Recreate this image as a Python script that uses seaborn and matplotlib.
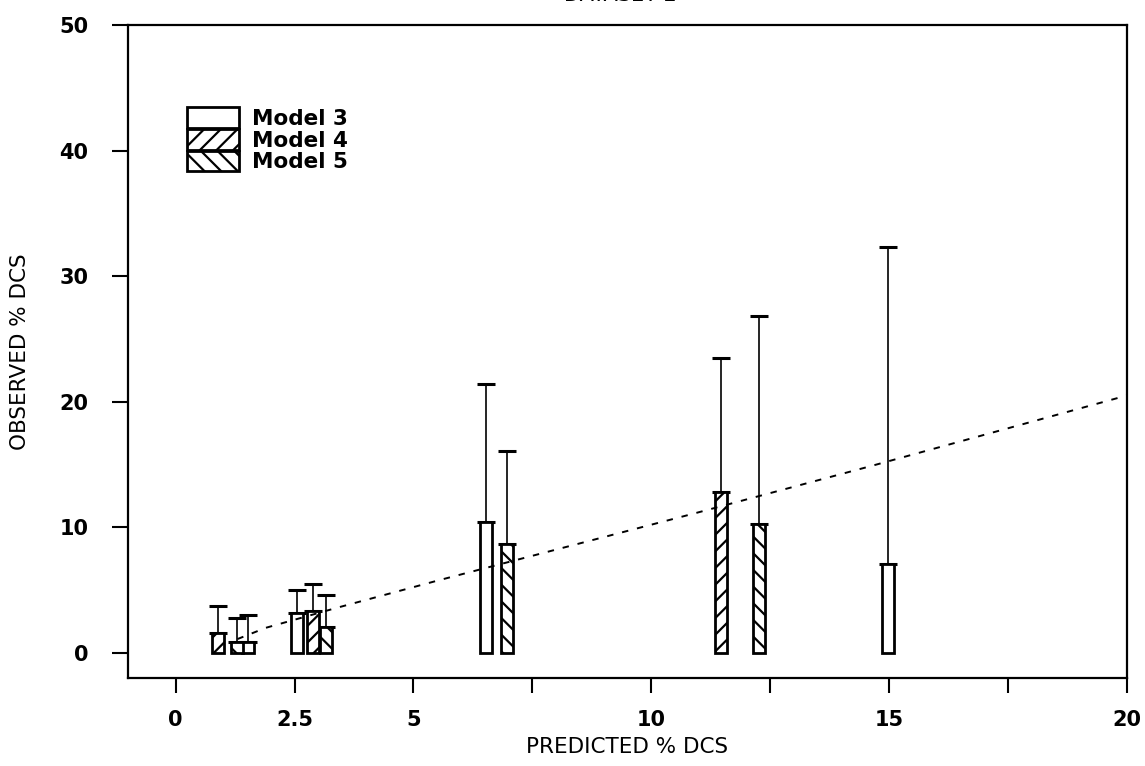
import numpy as np
import pandas as pd
import matplotlib
matplotlib.use("Agg")
import matplotlib.pyplot as plt
import seaborn as sns
from matplotlib.patches import Patch

# ---- data ----
models = ["Model 3", "Model 4", "Model 5"]
model3_x = [1.52, 2.56, 6.53, 14.98]
model3_y = [0.9, 3.2, 10.4, 7.1]
model3_hi = [3.0, 5.0, 21.4, 32.3]
model4_x = [0.90, 2.89, 11.47]
model4_y = [1.6, 3.3, 12.8]
model4_hi = [3.7, 5.5, 23.5]
model5_x = [1.29, 3.17, 6.97, 12.27]
model5_y = [0.9, 2.1, 8.7, 10.3]
model5_hi = [2.8, 4.6, 16.1, 26.8]

line_x = [1.3, 1.9, 3.4, 5.55, 10.9, 14.64, 20.0]
line_y = [1.1, 2.0, 3.6, 5.8, 11.1, 14.9, 20.5]

xticks = [0, 2.5, 5, 7.5, 10, 12.5, 15, 17.5, 20]
xticklabels = ["0", "2.5", "5", "", "10", "", "15", "", "20"]
yticks = [0, 10, 20, 30, 40, 50]
yticklabels = ["0", "10", "20", "30", "40", "50"]

hatches = {"Model 3": "", "Model 4": "//", "Model 5": "\\\\"}

df = pd.concat([
    pd.DataFrame({"x": model3_x, "y": model3_y, "hi": model3_hi, "model": "Model 3"}),
    pd.DataFrame({"x": model4_x, "y": model4_y, "hi": model4_hi, "model": "Model 4"}),
    pd.DataFrame({"x": model5_x, "y": model5_y, "hi": model5_hi, "model": "Model 5"}),
], ignore_index=True)

sns.set_theme(style="ticks")
plt.rcParams["font.family"] = ["DejaVu Sans"]
plt.rcParams["hatch.linewidth"] = 1.6
plt.rcParams["hatch.color"] = "black"
plt.rcParams["text.color"] = "black"

fig = plt.figure(figsize=(11.45, 7.66), dpi=100)
ax = fig.add_axes([128 / 1145, 1 - 678 / 766, 999 / 1145, 653 / 766])

bar_units = 0.25
min_gap = np.min(np.diff(np.unique(df["x"])))
sns.barplot(data=df, x="x", y="y", hue="model", hue_order=models,
            native_scale=True, dodge=False, width=bar_units / min_gap,
            palette={m: "white" for m in models}, edgecolor="black",
            linewidth=2.0, errorbar=None, legend=False, ax=ax, zorder=3)

xs = df["x"].to_numpy()
for p in ax.patches:
    cx = p.get_x() + p.get_width() / 2
    i = int(np.argmin(np.abs(xs - cx)))
    p.set_hatch(hatches[df["model"].iloc[i]])
    p.set_facecolor("white")
    p.set_edgecolor("black")

ax.errorbar(df["x"], df["y"], yerr=[np.zeros(len(df)), df["hi"] - df["y"]],
            fmt="none", ecolor="black", elinewidth=1.2, capsize=6.5,
            capthick=2.2, zorder=2)

sns.lineplot(x=line_x, y=line_y, ax=ax, color="black", lw=1.4,
             linestyle=(0, (3.3, 4.6)), zorder=4)

ax.set_xlim(-1, 20)
ax.set_ylim(-2, 50)
ax.set_xticks(xticks)
ax.set_xticklabels(xticklabels, fontweight="bold")
ax.set_yticks(yticks)
ax.set_yticklabels(yticklabels, fontweight="bold")
ax.tick_params(axis="x", length=11, width=1.5, pad=12, labelsize=15, colors="black")
ax.tick_params(axis="y", length=11.5, width=1.5, pad=17, labelsize=15, colors="black")
for s in ax.spines.values():
    s.set_visible(True)
    s.set_linewidth(1.6)
    s.set_color("black")

ax.set_xlabel("PREDICTED % DCS", fontsize=15.5, color="black")
ax.set_ylabel("OBSERVED % DCS", fontsize=15.5, color="black")
ax.xaxis.set_label_coords(0.5, -0.0904)
ax.yaxis.set_label_coords(-0.098, 0.5)

handles = [Patch(facecolor="white", edgecolor="black", linewidth=2.0, hatch=hatches[m], label=m)
           for m in models]
leg = ax.legend(handles=handles, loc="upper left", bbox_to_anchor=(0.059, 0.874),
                frameon=False, prop={"size": 15.5, "weight": "bold"}, borderpad=0,
                borderaxespad=0, labelspacing=0.0, handlelength=2.4,
                handleheight=1.1, handletextpad=0.6)
for t in leg.get_texts():
    t.set_color("black")

fig.text(0.542, 1 - 5 / 766, "DATASET 2", ha="center", va="bottom", fontsize=15, color="black")

fig.savefig("out.png", dpi=100, facecolor="white")
